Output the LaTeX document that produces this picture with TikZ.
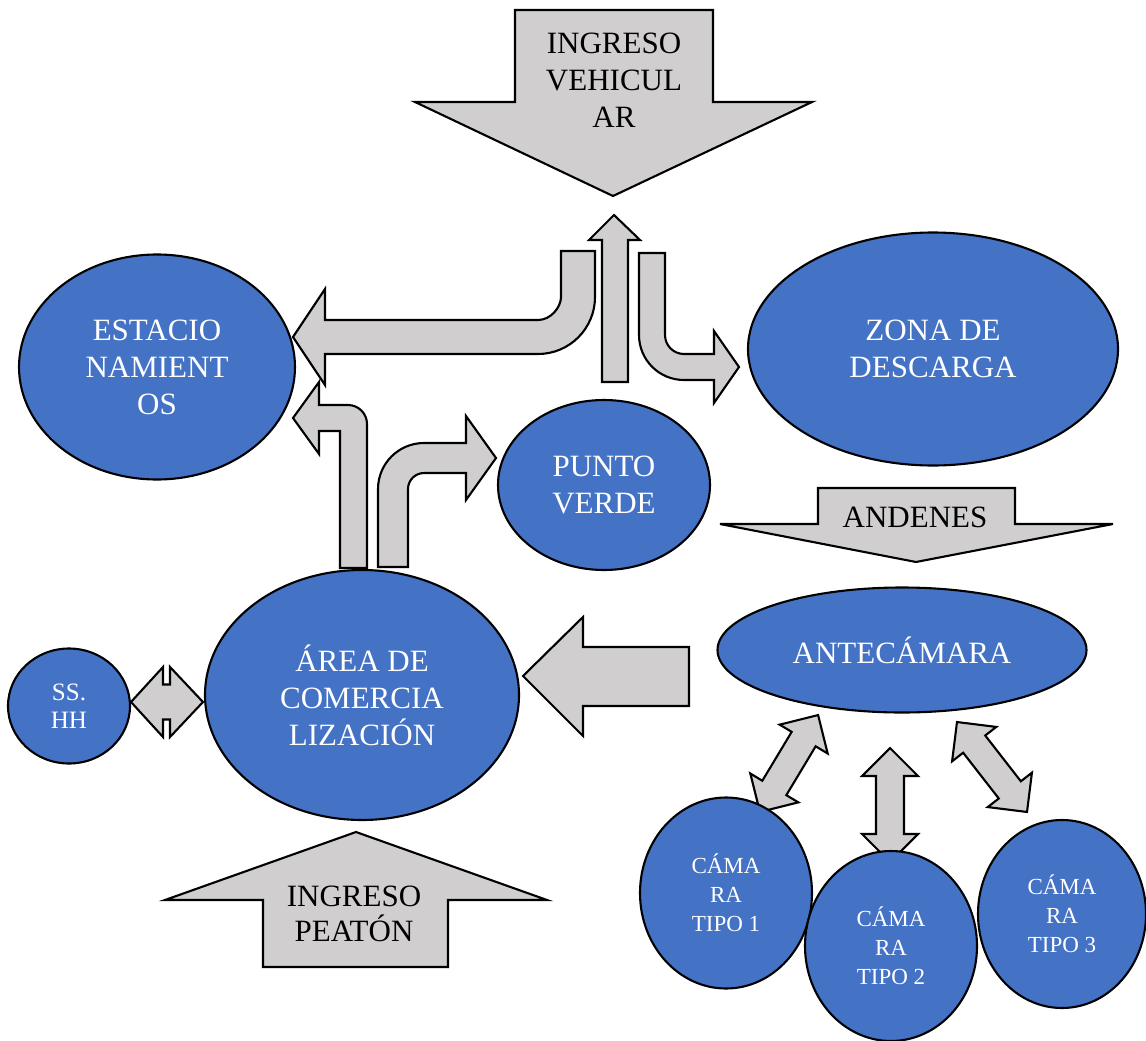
\documentclass[tikz,border=0pt]{standalone}
\usepackage{fontspec}
\setmainfont{Liberation Serif}
\usetikzlibrary{shapes.geometric}
\definecolor{blueA}{RGB}{68,114,196}
\definecolor{grayA}{RGB}{208,206,206}
\tikzset{
  ell/.style={ellipse, draw=black, line width=2.1pt, fill=blueA, text=white, inner sep=0pt, align=center, font={\fontsize{31}{37}\selectfont}},
  ellsmall/.style={ell, font={\fontsize{23}{29}\selectfont}},
  blockarr/.style={draw=black, line width=2.1pt, fill=grayA, line join=miter},
  arrtext/.style={align=center, text=black, inner sep=0pt, font={\fontsize{31}{37}\selectfont}}
}
\begin{document}
\begin{tikzpicture}[x=1pt,y=-1pt]
\useasboundingbox (0,0) rectangle (1146,1041);
% ---- block arrows ----
% ingreso vehicular
\draw[blockarr] (515,10) -- (713,10) -- (713,102) -- (812,102) -- (613,196) -- (415,102) -- (515,102) -- cycle;
\node[arrtext] (tveh) at (614,80) {INGRESO\\VEHICUL\\AR};
% andenes
\draw[blockarr] (818,488) -- (1015,488) -- (1015,524) -- (1113,524) -- (916,562) -- (720,524) -- (818,524) -- cycle;
\node[arrtext] (tand) at (915,517) {ANDENES};
% ingreso peaton
\draw[blockarr] (263,967) -- (263,900) -- (165,900) -- (356,832) -- (547,900) -- (448,900) -- (448,967) -- cycle;
\node[arrtext, font={\fontsize{31}{35}\selectfont}] (tpea) at (354,914) {INGRESO\\PEATÓN};
% arrow to area de comercializacion
\draw[blockarr] (689,647) -- (689,706) -- (583,706) -- (583,736) -- (523,676) -- (583,617) -- (583,647) -- cycle;
% vertical up arrow
\draw[blockarr] (602,382) -- (602,240) -- (589,240) -- (614,215) -- (640,240) -- (628,240) -- (628,382) -- cycle;
% bent arrow to estacionamientos (top)
\draw[blockarr] (561,251) -- (595,251) -- (595,297) .. controls (595,328.5) and (569.5,354) .. (538,354) -- (325,354) -- (325,385) -- (293,337) -- (325,289) -- (325,320) -- (538,320) .. controls (550.7,320) and (561,307.3) .. (561,297) -- cycle;
% bent arrow to zona de descarga
\draw[blockarr] (639,253) -- (665,253) -- (665,335) .. controls (665,345.5) and (673.5,354) .. (684,354) -- (714,354) -- (714,331) -- (739,367) -- (714,403) -- (714,380) -- (684,380) .. controls (659.1,380) and (639,359.9) .. (639,335) -- cycle;
% bent arrow from area to estacionamientos
\draw[blockarr] (340,568) -- (367,568) -- (367,424) .. controls (367,413.5) and (358.5,405) .. (348,405) -- (319,405) -- (319,382) -- (293,418) -- (319,454) -- (319,431) -- (340,431) -- cycle;
% bent arrow from area to punto verde
\draw[blockarr] (378,567) -- (378,489) .. controls (378,463.6) and (398.6,443) .. (424,443) -- (466,443) -- (466,416) -- (496,458) -- (466,500) -- (466,473) -- (424,473) .. controls (415.2,473) and (408,480.2) .. (408,489) -- (408,567) -- cycle;
% double arrow ss.hh
\draw[blockarr] (131,702) -- (163,667) -- (163,684.5) -- (170,684.5) -- (170,667) -- (203,702) -- (170,737) -- (170,719.5) -- (163,719.5) -- (163,737) -- cycle;
% double arrow middle (antecamara - tipo 2)
\draw[blockarr] (890,748) -- (918,776) -- (904,776) -- (904,834) -- (918,834) -- (890,862) -- (862,834) -- (876,834) -- (876,776) -- (862,776) -- cycle;
% double arrow left diagonal
\begin{scope}[shift={(789,763.5)}, rotate=59]
\draw[blockarr] (-56.5,0) -- (-28.5,28) -- (-28.5,14) -- (28.5,14) -- (28.5,28) -- (56.5,0) -- (28.5,-28) -- (28.5,-14) -- (-28.5,-14) -- (-28.5,-28) -- cycle;
\end{scope}
% double arrow right diagonal
\begin{scope}[shift={(992,767)}, rotate=127.9]
\draw[blockarr] (-57,0) -- (-29,28) -- (-29,14) -- (29,14) -- (29,28) -- (57,0) -- (29,-28) -- (29,-14) -- (-29,-14) -- (-29,-28) -- cycle;
\end{scope}
% ---- ellipses ----
\node[ell, minimum width=276pt, minimum height=225pt] (est) at (157,367) {ESTACIO\\NAMIENT\\OS};
\node[ell, minimum width=370pt, minimum height=233pt] (zona) at (933,349) {ZONA DE\\DESCARGA};
\node[ell, minimum width=212pt, minimum height=170pt] (punto) at (604,485) {PUNTO\\VERDE};
\node[ell, minimum width=314pt, minimum height=250pt] (area) at (362,695) {ÁREA DE\\COMERCIA\\LIZACIÓN};
\node[ell, minimum width=122pt, minimum height=115pt, font={\fontsize{25}{28}\selectfont}] (sshh) at (69,706) {SS.\\HH};
\node[ell, minimum width=369pt, minimum height=125pt] (ante) at (902,650) {ANTECÁMARA};
\node[ellsmall, minimum width=172pt, minimum height=191pt] (cam1) at (726,893) {CÁMA\\RA\\TIPO 1};
\node[ellsmall, minimum width=168pt, minimum height=188pt] (cam3) at (1062,914) {CÁMA\\RA\\TIPO 3};
\node[ellsmall, minimum width=172pt, minimum height=190pt] (cam2) at (891,946) {CÁMA\\RA\\TIPO 2};
\end{tikzpicture}
\end{document}
